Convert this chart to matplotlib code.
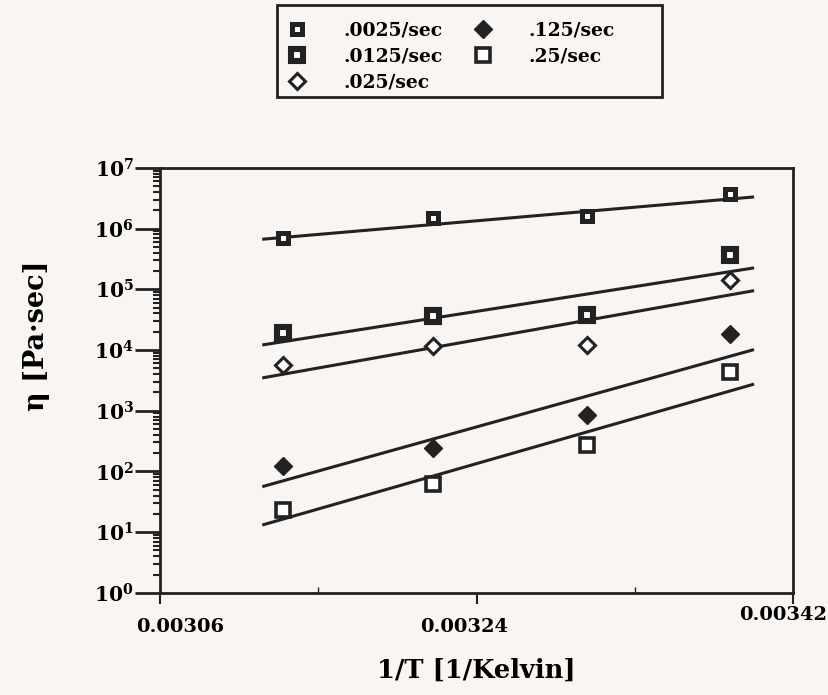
import numpy as np
import matplotlib
matplotlib.use("Agg")
import matplotlib.pyplot as plt
import matplotlib.transforms as mtransforms
from matplotlib.patches import Rectangle
from matplotlib.ticker import LogLocator, FixedLocator, NullFormatter

## DATA
# inverse temperature of the four test points, 1/Kelvin
inv_temp = [0.003130, 0.003215, 0.003303, 0.003384]
# viscosity at each strain rate, Pa*sec
rate_labels = ['.0025/sec', '.0125/sec', '.025/sec', '.125/sec', '.25/sec']
eta_0025 = [7.0e5, 1.5e6, 1.6e6, 3.7e6]
eta_0125 = [1.9e4, 3.6e4, 3.8e4, 3.6e5]
eta_025 = [5.7e3, 1.15e4, 1.2e4, 1.4e5]
eta_125 = [121, 243, 860, 1.8e4]
eta_25 = [23.5, 61, 276, 4.3e3]
# fitted lines, read at their two ends
fit_x = [0.003119, 0.003397]
fit_0025 = [6.7e5, 3.3e6]
fit_0125 = [1.22e4, 2.23e5]
fit_025 = [3.5e3, 9.4e4]
fit_125 = [57, 1.0e4]
fit_25 = [13.3, 2.7e3]
x_ticks = [0.00306, 0.00324, 0.00342]
x_tick_labels = ['0.00306', '0.00324', '0.00342']

series = [eta_0025, eta_0125, eta_025, eta_125, eta_25]
fits = [fit_0025, fit_0125, fit_025, fit_125, fit_25]

ink = '#222222'
paper = '#f8f5f2'
# marker, size, face colour, edge width for each rate
styles = [('s', 7.2, 'white', 3.6),
          ('s', 8.0, 'white', 4.4),
          ('D', 8.5, 'white', 2.2),
          ('D', 9.0, ink, 1.0),
          ('s', 9.6, 'white', 2.6)]

plt.rcParams['font.family'] = 'DejaVu Serif'
plt.rcParams['font.weight'] = 'bold'
plt.rcParams['axes.labelweight'] = 'bold'
plt.rcParams['mathtext.fontset'] = 'dejavuserif'
plt.rcParams['mathtext.default'] = 'bf'

fig = plt.figure(figsize=(8.29, 6.95), dpi=100, facecolor=paper)
ax = fig.add_axes([0.193, 0.147, 0.7636, 0.6115], facecolor=paper)

for eta, fit, label, st in zip(series, fits, rate_labels, styles):
    ax.plot(fit_x, fit, '-', color=ink, lw=2.2, zorder=2)
    ax.plot(inv_temp, eta, linestyle='none', marker=st[0], ms=st[1],
            mfc=st[2], mec=ink, mew=st[3], label=label, zorder=3)

ax.set_yscale('log')
ax.set_xlim(0.00306, 0.00342)
ax.set_ylim(1, 1e7)

ax.xaxis.set_major_locator(FixedLocator(x_ticks))
ax.xaxis.set_minor_locator(FixedLocator([0.00315, 0.00333]))
ax.set_xticklabels(x_tick_labels)
ax.yaxis.set_major_locator(LogLocator(base=10, numticks=10))
ax.yaxis.set_minor_locator(LogLocator(base=10, subs=np.arange(2, 10), numticks=20))
ax.yaxis.set_minor_formatter(NullFormatter())

ax.tick_params(axis='y', which='major', direction='out', length=18, width=2,
               color=ink, labelsize=14.5, pad=1)
ax.tick_params(axis='y', which='minor', direction='out', length=5, width=1.5,
               color=ink)
ax.tick_params(axis='x', which='major', direction='out', length=8, width=1.5,
               color=ink, labelsize=14, pad=10)
ax.tick_params(axis='x', which='minor', direction='in', length=4, width=1,
               color=ink)
for s in ax.spines.values():
    s.set_linewidth(2)
    s.set_color(ink)

# the scanned tick labels sit a little off their ticks
shifts = [(20, 0), (-12, 0), (-10, 12)]
for lab, (dx, dy) in zip(ax.get_xticklabels(), shifts):
    lab.set_transform(lab.get_transform() +
                      mtransforms.ScaledTranslation(dx / 100, dy / 100, fig.dpi_scale_trans))

ax.set_xlabel('1/T [1/Kelvin]', fontsize=18.5, labelpad=16)
ax.set_ylabel('η [Pa·sec]', fontsize=19.5)
ax.yaxis.set_label_coords(-0.174, 0.605)

leg = fig.legend(loc='upper left', bbox_to_anchor=(0.345, 0.9695), ncol=2,
                 fontsize=13.5, frameon=False, handlelength=1.2,
                 handletextpad=1.85, columnspacing=1.55, labelspacing=0.43,
                 borderpad=0, borderaxespad=0)
fig.add_artist(Rectangle((0.3341, 0.8604), 0.4645, 0.1324, transform=fig.transFigure,
                         fill=False, lw=2, edgecolor=ink))

fig.savefig('out.png', dpi=100, facecolor=paper)
